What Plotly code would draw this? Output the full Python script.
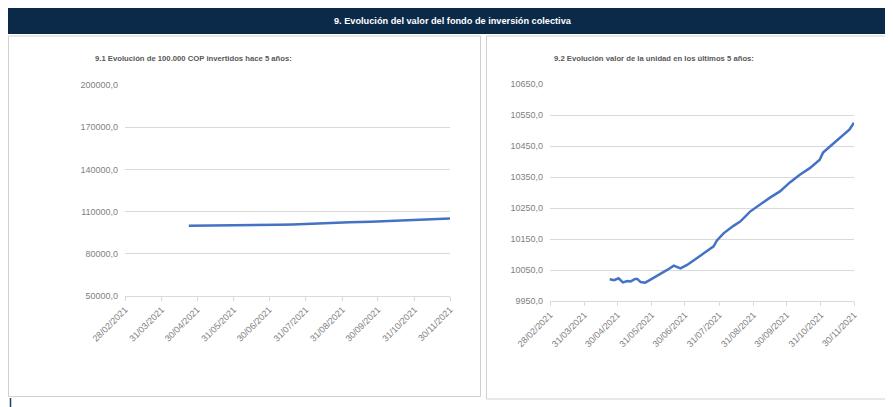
import plotly.graph_objects as go

# ---- data ----
tick_dates = ["2021-02-28", "2021-03-31", "2021-04-30", "2021-05-31", "2021-06-30",
              "2021-07-31", "2021-08-31", "2021-09-30", "2021-10-31", "2021-11-30"]
tick_labels = ["28/02/2021", "31/03/2021", "30/04/2021", "31/05/2021", "30/06/2021",
               "31/07/2021", "31/08/2021", "30/09/2021", "31/10/2021", "30/11/2021"]

left_dates = ["2021-04-23", "2021-05-01", "2021-05-09", "2021-05-16", "2021-05-25",
              "2021-06-02", "2021-06-14", "2021-06-26", "2021-07-08", "2021-07-20",
              "2021-08-04", "2021-08-19", "2021-09-06", "2021-09-24", "2021-10-12",
              "2021-10-30", "2021-11-08", "2021-11-17", "2021-11-30"]
left_values = [100000, 100030, 99940, 100010, 99890, 100050, 100300, 100350, 100600, 100900,
               101480, 101860, 102420, 102830, 103360, 103850, 104260, 104530, 105030]
left_yticks = [50000, 80000, 110000, 140000, 170000, 200000]
left_yticklabels = ["50000,0", "80000,0", "110000,0", "140000,0", "170000,0", "200000,0"]

right_dates = ["2021-04-23", "2021-04-27", "2021-05-01", "2021-05-05", "2021-05-09",
               "2021-05-12", "2021-05-16", "2021-05-18", "2021-05-21", "2021-05-25",
               "2021-05-28", "2021-06-02", "2021-06-08", "2021-06-14", "2021-06-20",
               "2021-06-26", "2021-07-02", "2021-07-08", "2021-07-14", "2021-07-20",
               "2021-07-26", "2021-07-29", "2021-08-04", "2021-08-13", "2021-08-19",
               "2021-08-28", "2021-09-06", "2021-09-15", "2021-09-24", "2021-10-03",
               "2021-10-12", "2021-10-21", "2021-10-30", "2021-11-02", "2021-11-08",
               "2021-11-17", "2021-11-26", "2021-11-30"]
right_values = [10021, 10018, 10024, 10011, 10015, 10014, 10022, 10022, 10012, 10010,
                10016, 10026, 10037, 10051, 10065, 10056, 10067, 10081, 10097, 10112,
                10127, 10146, 10169, 10193, 10207, 10239, 10263, 10284, 10304, 10333,
                10358, 10379, 10406, 10429, 10448, 10475, 10504, 10525]
right_yticks = [9950, 10050, 10150, 10250, 10350, 10450, 10550, 10650]
right_yticklabels = ["9950,0", "10050,0", "10150,0", "10250,0", "10350,0",
                     "10450,0", "10550,0", "10650,0"]

header_title = "9. Evolución del valor del fondo de inversión colectiva"
left_title = "9.1 Evolución de 100.000 COP invertidos hace 5 años:"
right_title = "9.2 Evolución valor de la unidad en los últimos 5 años:"

# ---- layout helpers (page has an 8px body margin) ----
OFF = 8
W, H = 893 - OFF, 407 - OFF
def px(x): return (x - OFF) / W
def py(y): return 1 - (y - OFF) / H

FONT = "Liberation Sans Narrow, Liberation Sans, Arial, sans-serif"
BLUE = "#4472C4"
GRID = "#d9d9d9"
TXT = "#7f7f7f"
NAVY = "#0b2a4a"

fig = go.Figure()
fig.add_trace(go.Scatter(x=left_dates, y=left_values, mode="lines",
                         line=dict(color=BLUE, width=2.5), xaxis="x", yaxis="y",
                         showlegend=False, hoverinfo="x+y"))
fig.add_trace(go.Scatter(x=right_dates, y=right_values, mode="lines",
                         line=dict(color=BLUE, width=2.5), xaxis="x2", yaxis="y2",
                         showlegend=False, hoverinfo="x+y"))

xcommon = dict(type="date", range=[tick_dates[0], tick_dates[-1]],
               tickmode="array", tickvals=tick_dates, ticktext=tick_labels,
               tickangle=-45, tickfont=dict(family=FONT, size=9, color=TXT),
               showgrid=False, showline=True, linecolor=GRID, linewidth=1,
               ticks="outside", ticklen=4, tickcolor=GRID, zeroline=False,
               fixedrange=True, automargin=False)
ycommon = dict(tickmode="array", tickfont=dict(family=FONT, size=9, color=TXT),
               showgrid=True, gridcolor=GRID, gridwidth=1, zeroline=False,
               showline=False, ticks="", ticklabelstandoff=6, fixedrange=True,
               automargin=False)

fig.update_layout(
    template="none",
    width=W, height=H, margin=dict(l=0, r=0, t=0, b=0, autoexpand=False),
    paper_bgcolor="white", plot_bgcolor="white",
    xaxis=dict(xcommon, domain=[px(125), px(450)], anchor="y"),
    yaxis=dict(ycommon, domain=[py(296), py(85)], range=[50000, 200000], anchor="x",
               tickvals=left_yticks, ticktext=left_yticklabels),
    xaxis2=dict(xcommon, domain=[px(550), px(854)], anchor="y2"),
    yaxis2=dict(ycommon, domain=[py(301.3), py(84)], range=[9950, 10650], anchor="x2",
                tickvals=right_yticks, ticktext=right_yticklabels),
    shapes=[
        # header bar
        dict(type="rect", xref="paper", yref="paper", x0=px(8), x1=px(889), y0=py(34), y1=py(8),
             fillcolor=NAVY, line=dict(width=0), layer="below"),
        # panel boxes
        dict(type="rect", xref="paper", yref="paper", x0=px(8.5), x1=px(480.5), y0=py(396.5), y1=py(36),
             fillcolor="rgba(0,0,0,0)", line=dict(color="#d0d0d0", width=1), layer="below"),
        dict(type="rect", xref="paper", yref="paper", x0=px(486.5), x1=px(888), y0=py(399), y1=py(36),
             fillcolor="rgba(0,0,0,0)", line=dict(color="#d0d0d0", width=1), layer="below"),
        # dark edge lines
        dict(type="line", xref="paper", yref="paper", x0=px(889.5), x1=px(889.5), y0=0, y1=py(8),
             line=dict(color=NAVY, width=1.5)),
        dict(type="line", xref="paper", yref="paper", x0=px(10.5), x1=px(10.5), y0=0, y1=py(398),
             line=dict(color="#1f3f6a", width=1.5)),
    ],
    annotations=[
        dict(text="<b>" + header_title + "</b>", xref="paper", yref="paper",
             x=px(453), y=py(21), xanchor="center", yanchor="middle", showarrow=False,
             font=dict(family=FONT, size=9.2, color="white")),
        dict(text="<b>" + left_title + "</b>", xref="paper", yref="paper",
             x=px(93), y=py(58), xanchor="left", yanchor="middle", showarrow=False,
             font=dict(family=FONT, size=7.7, color="#595959")),
        dict(text="<b>" + right_title + "</b>", xref="paper", yref="paper",
             x=px(552), y=py(58), xanchor="left", yanchor="middle", showarrow=False,
             font=dict(family=FONT, size=7.7, color="#595959")),
    ],
)

fig.write_html("out.html")
